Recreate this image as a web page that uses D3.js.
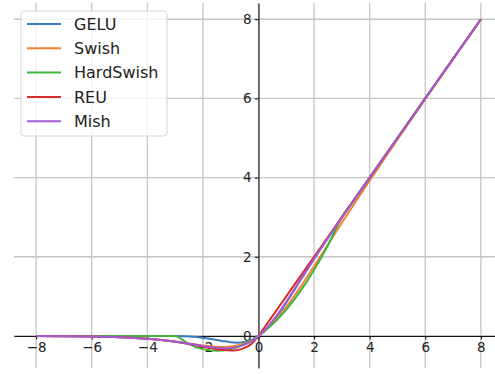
<!DOCTYPE html>
<html>
<head>
<meta charset="utf-8">
<script src="https://cdn.jsdelivr.net/npm/d3@7"></script>
<style>
  body { margin: 0; background: #fff; }
  svg { display: block; font-family: "DejaVu Sans", sans-serif; }
</style>
</head>
<body>
<div id="chart"></div>
<script>
// activation functions
var xs = [-8, -7, -6, -5, -4, -3.5, -3, -2.5, -2, -1.75, -1.5, -1.25, -1, -0.75, -0.5, -0.25,
          0, 0.25, 0.5, 0.75, 1, 1.25, 1.5, 2, 2.5, 3, 3.5, 4, 5, 6, 7, 8];

var gelu = [0, 0, 0, 0, -0.0001, -0.0008, -0.004, -0.0155, -0.0455, -0.0701, -0.1002, -0.132, -0.1587, -0.17, -0.1543, -0.1003,
            0, 0.1497, 0.3457, 0.58, 0.8413, 1.118, 1.3998, 1.9545, 2.4845, 2.996, 3.4992, 3.9999, 5, 6, 7, 8];
var swish = [-0.0027, -0.0064, -0.0148, -0.0335, -0.0719, -0.1026, -0.1423, -0.1896, -0.2384, -0.259, -0.2736, -0.2784, -0.2689, -0.2406, -0.1888, -0.1094,
             0, 0.1406, 0.3112, 0.5094, 0.7311, 0.9716, 1.2264, 1.7616, 2.3104, 2.8577, 3.3974, 3.9281, 4.9665, 5.9852, 6.9936, 7.9973];
var hardSwish = [0, 0, 0, 0, 0, 0, 0, -0.2083, -0.3333, -0.3646, -0.375, -0.3646, -0.3333, -0.2813, -0.2083, -0.1146,
                 0, 0.1354, 0.2917, 0.4688, 0.6667, 0.8854, 1.125, 1.6667, 2.2917, 3, 3.5, 4, 5, 6, 7, 8];
var reu = [-0.0027, -0.0064, -0.0149, -0.0337, -0.0733, -0.1057, -0.1494, -0.2052, -0.2707, -0.3041, -0.3347, -0.3581, -0.3679, -0.3543, -0.3033, -0.1947,
           0, 0.25, 0.5, 0.75, 1, 1.25, 1.5, 2, 2.5, 3, 3.5, 4, 5, 6, 7, 8];
var mish = [-0.0027, -0.0064, -0.0149, -0.0336, -0.0726, -0.1041, -0.1456, -0.1968, -0.2525, -0.278, -0.2981, -0.3085, -0.3034, -0.2765, -0.2207, -0.1299,
            0, 0.1696, 0.3752, 0.61, 0.8651, 1.1319, 1.4034, 1.944, 2.4714, 2.9865, 3.494, 3.9974, 4.9995, 6, 7, 8];

var names = ["GELU", "Swish", "HardSwish", "REU", "Mish"];
var colors = ["#3b7bbf", "#f5812a", "#3db63b", "#d52b2b", "#a35ad4"];
var xTicks = [-8, -6, -4, -2, 0, 2, 4, 6, 8];
var yTicks = [0, 2, 4, 6, 8];

var series = [gelu, swish, hardSwish, reu, mish].map(function(vals, i) {
  return { name: names[i], color: colors[i], values: vals.map(function(v, j) { return [xs[j], v]; }) };
});

var width = 495, height = 374;

var svg = d3.select("#chart").append("svg")
  .attr("width", width)
  .attr("height", height);

var x = d3.scaleLinear().domain([-8.8, 8.8]).range([13.9, 503.1]);
var y = d3.scaleLinear().domain([-0.81, 8.41]).range([368, 3]);

// grid
svg.append("g").selectAll("line").data(xTicks).enter().append("line")
  .attr("x1", function(d) { return x(d); }).attr("x2", function(d) { return x(d); })
  .attr("y1", y.range()[0]).attr("y2", y.range()[1])
  .attr("stroke", "#c6c6c6").attr("stroke-width", 1.3);
svg.append("g").selectAll("line").data(yTicks).enter().append("line")
  .attr("y1", function(d) { return y(d); }).attr("y2", function(d) { return y(d); })
  .attr("x1", x.range()[0]).attr("x2", x.range()[1])
  .attr("stroke", "#c6c6c6").attr("stroke-width", 1.3);

// axes through zero
var xAxis = svg.append("g")
  .attr("transform", "translate(0," + y(0) + ")")
  .call(d3.axisBottom(x).tickValues(xTicks).tickSize(3.5).tickSizeOuter(0).tickPadding(3));
var yAxis = svg.append("g")
  .attr("transform", "translate(" + x(0) + ",0)")
  .call(d3.axisLeft(y).tickValues(yTicks).tickSize(3.5).tickSizeOuter(0).tickPadding(3.5));

[xAxis, yAxis].forEach(function(ax) {
  ax.selectAll("path, line").attr("stroke", "#000").attr("stroke-width", 1);
  ax.selectAll("text").attr("fill", "#222").style("font-size", "13.5px")
    .style("font-family", "DejaVu Sans, sans-serif");
});

var line = d3.line()
  .x(function(d) { return x(d[0]); })
  .y(function(d) { return y(d[1]); })
  .curve(d3.curveMonotoneX);

svg.append("g").selectAll("path").data(series).enter().append("path")
  .attr("d", function(d) { return line(d.values); })
  .attr("fill", "none")
  .attr("stroke", function(d) { return d.color; })
  .attr("stroke-width", 2);

// legend
var legend = svg.append("g").attr("transform", "translate(21,11)");
legend.append("rect")
  .attr("width", 146).attr("height", 125).attr("rx", 3)
  .attr("fill", "#fff").attr("fill-opacity", 0.8)
  .attr("stroke", "#d6d6d6");
var item = legend.selectAll(".item").data(series).enter().append("g")
  .attr("transform", function(d, i) { return "translate(0," + (13 + i * 24.3) + ")"; });
item.append("line")
  .attr("x1", 6).attr("x2", 40)
  .attr("stroke", function(d) { return d.color; })
  .attr("stroke-width", 2);
item.append("text")
  .attr("x", 53).attr("dy", "0.36em")
  .style("font-size", "16px")
  .attr("fill", "#222")
  .text(function(d) { return d.name; });
</script>
</body>
</html>
